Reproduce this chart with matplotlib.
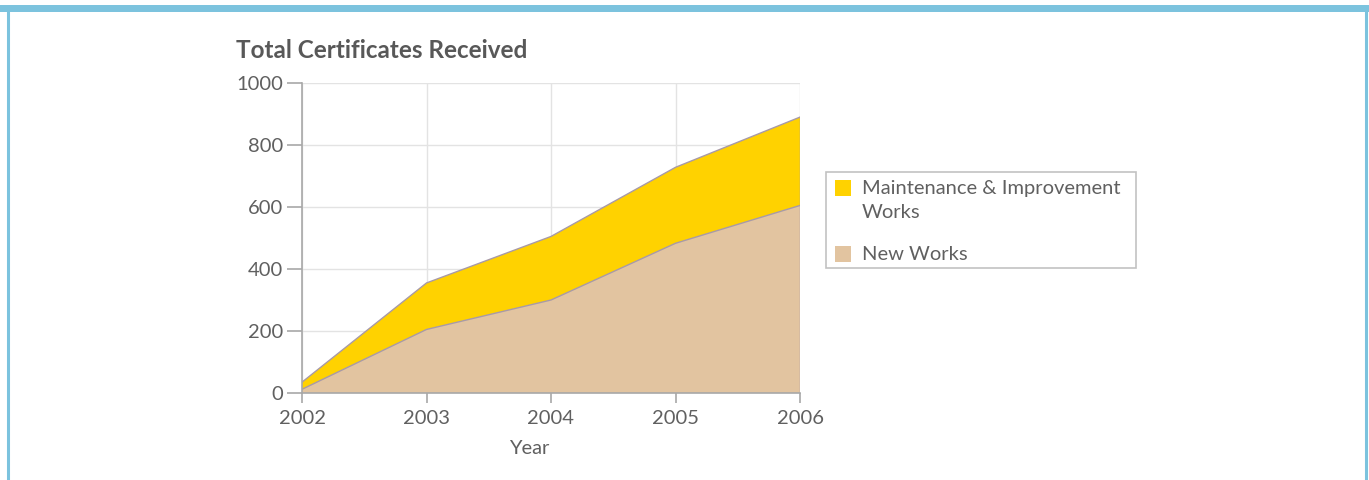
import matplotlib
matplotlib.use("Agg")
import matplotlib.pyplot as plt
from matplotlib.patches import Rectangle
from matplotlib.lines import Line2D

plt.rcParams['font.family'] = ['Lato', 'DejaVu Sans']

years = [2002, 2003, 2004, 2005, 2006]
new_works = [12, 205, 300, 483, 605]
maintenance = [23, 150, 205, 245, 285]
y_ticks = [0, 200, 400, 600, 800, 1000]
series_labels = ["New Works", "Maintenance & Improvement\nWorks"]

W, H = 1369, 480
fig = plt.figure(figsize=(W / 100, H / 100), dpi=100)
fig.patch.set_facecolor("white")


def fx(px):
    return px / W


def fy(py):
    return 1 - py / H


# page frame: thick top band and thin side rules
frame_col = "#7CC3DE"
fig.add_artist(Rectangle((0, fy(12)), 1, 7 / H, transform=fig.transFigure,
                         facecolor=frame_col, edgecolor="none"))
fig.add_artist(Line2D([fx(8), fx(8)], [0, fy(12)], transform=fig.transFigure,
                      color=frame_col, lw=2.2))
fig.add_artist(Line2D([fx(1366), fx(1366)], [0, fy(12)], transform=fig.transFigure,
                      color=frame_col, lw=2.2))

ax = fig.add_axes([fx(302), fy(393), (800 - 302) / W, (393 - 83) / H])

tan = "#E2C4A0"
yellow = "#FFD200"
edge = "#A89AA6"
text_col = "#606060"

total = [a + b for a, b in zip(new_works, maintenance)]
ax.fill_between(years, 0, new_works, facecolor=tan, edgecolor="none", zorder=2)
ax.fill_between(years, new_works, total, facecolor=yellow, edgecolor="none", zorder=2)
ax.plot(years, new_works, color=edge, lw=1.0, zorder=3)
ax.plot(years, total, color=edge, lw=1.0, zorder=3)
ax.plot([years[-1], years[-1]], [0, total[-1]], color=edge, lw=1.0, zorder=3)

ax.set_xlim(years[0], years[-1])
ax.set_ylim(0, 1000)
ax.set_xticks(years)
ax.set_yticks(y_ticks)
ax.grid(True, color="#E3E3E3", lw=1.0, zorder=0)
ax.set_axisbelow(True)

for s in ["top", "right"]:
    ax.spines[s].set_visible(False)
for s in ["left", "bottom"]:
    ax.spines[s].set_color("#A8A8A8")
    ax.spines[s].set_linewidth(1.2)
    ax.spines[s].set_zorder(4)

ax.tick_params(axis="both", colors="#A8A8A8", width=1.2,
               labelcolor=text_col, labelsize=14.5)
ax.tick_params(axis="y", length=10.5, pad=3)
ax.tick_params(axis="x", length=7.5, pad=5)

ax.set_xlabel("Year", fontsize=14.5, color=text_col)
ax.xaxis.set_label_coords((529 - 302) / (800 - 302), -0.15)

fig.text(fx(236), fy(50), "Total Certificates Received", fontsize=17.5,
         fontweight="bold", color="#585858", va="center", ha="left")

# legend box drawn by hand
fig.add_artist(Rectangle((fx(826), fy(268)), (1136 - 826) / W, (268 - 172) / H,
                         transform=fig.transFigure, facecolor="white",
                         edgecolor="#C2C2C2", lw=1.2))
fig.add_artist(Rectangle((fx(835), fy(196)), 16 / W, 16 / H,
                         transform=fig.transFigure, facecolor=yellow, edgecolor="none"))
fig.add_artist(Rectangle((fx(835), fy(262)), 16 / W, 16 / H,
                         transform=fig.transFigure, facecolor=tan, edgecolor="none"))
fig.text(fx(862), fy(180), series_labels[1], fontsize=14.5, color=text_col,
         va="top", ha="left", linespacing=1.5)
fig.text(fx(862), fy(254), series_labels[0], fontsize=14.5, color=text_col,
         va="center", ha="left")

fig.savefig("out.png", dpi=100, facecolor="white")
